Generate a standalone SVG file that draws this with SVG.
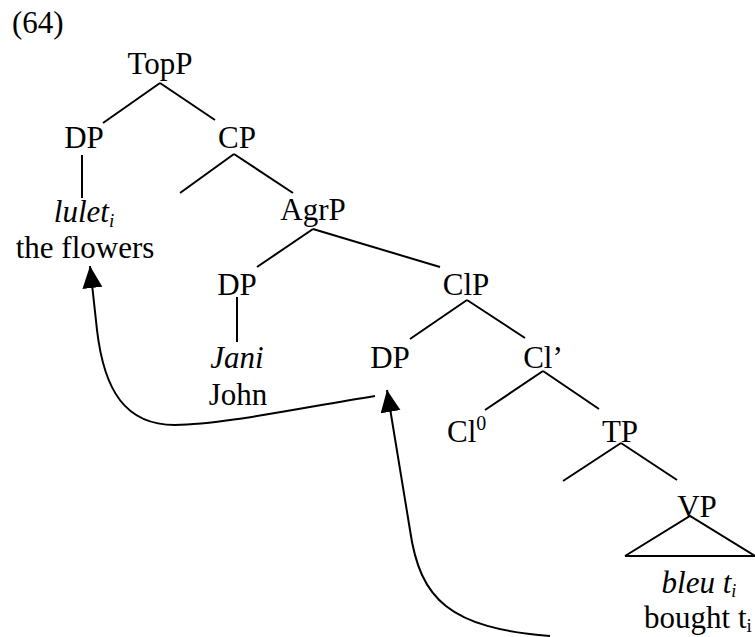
<svg xmlns="http://www.w3.org/2000/svg" width="755" height="637" viewBox="0 0 755 637">
<style>
text{font-family:"Liberation Serif","Times New Roman",serif;font-size:31px;fill:#000}
.c{text-anchor:middle}
.it{font-style:italic}
.e line,.e polyline{stroke:#000;stroke-width:2;fill:none}
.mv{stroke:#000;stroke-width:2;fill:none}
</style>
<defs>
<marker id="ah" markerUnits="userSpaceOnUse" markerWidth="24" markerHeight="22" refX="22" refY="10" orient="auto">
<path d="M0,0 L22,10 L0,20 Z" fill="#000"/>
</marker>
</defs>
<rect width="755" height="637" fill="#fff"/>
<text x="12" y="33">(64)</text>
<g id="TopP"><text class="c" x="160" y="74">TopP</text></g>
<g id="DP1"><text class="c" x="84" y="148">DP</text></g>
<g id="CP"><text class="c" x="237" y="148">CP</text></g>
<g id="lulet"><text class="c it" x="84" y="222">lulet<tspan font-size="19" dy="5">i</tspan></text></g>
<g id="flowers"><text class="c" x="85" y="258">the flowers</text></g>
<g id="AgrP"><text class="c" x="313" y="220">AgrP</text></g>
<g id="DP2"><text class="c" x="237" y="295">DP</text></g>
<g id="ClP"><text class="c" x="466" y="295">ClP</text></g>
<g id="Jani"><text class="c it" x="237" y="368">Jani</text></g>
<g id="John"><text class="c" x="238" y="405">John</text></g>
<g id="DP3"><text class="c" x="390" y="368">DP</text></g>
<g id="ClBar"><text class="c" x="543" y="368">Cl’</text></g>
<g id="Cl0"><text x="447" y="442">Cl<tspan font-size="20" dy="-12">0</tspan></text></g>
<g id="TP"><text class="c" x="620" y="442">TP</text></g>
<g id="VP"><text class="c" x="697" y="517">VP</text></g>
<g id="bleu"><text class="c it" x="699" y="593">bleu t<tspan font-size="18" dy="4">i</tspan></text></g>
<g id="bought"><text class="c" x="698" y="628">bought t<tspan font-size="19" dy="4">i</tspan></text></g>
<g id="edges" class="e">
<line x1="160" y1="83" x2="103" y2="123"/>
<line x1="160" y1="83" x2="215" y2="120"/>
<line x1="82" y1="155" x2="82" y2="198"/>
<line x1="234" y1="154" x2="180" y2="193"/>
<line x1="234" y1="154" x2="293" y2="193"/>
<line x1="313" y1="229" x2="257" y2="267"/>
<line x1="313" y1="229" x2="440" y2="267"/>
<line x1="237" y1="297" x2="237" y2="342"/>
<line x1="467" y1="300" x2="410" y2="339"/>
<line x1="467" y1="300" x2="525" y2="338"/>
<line x1="543" y1="371" x2="485" y2="410"/>
<line x1="543" y1="371" x2="599" y2="409"/>
<line x1="621" y1="443" x2="563" y2="481"/>
<line x1="621" y1="443" x2="677" y2="480"/>
<polyline points="625,556 690,516 755,556 625,556"/>
<path class="mv" d="M375 396 C300 408 220 425 175 425 C125 425 104 390 97 330 L90 266" marker-end="url(#ah)"/>
<path class="mv" d="M550 636 C450 628 420 600 410 530 L387 390" marker-end="url(#ah)"/>
</g>
</svg>
